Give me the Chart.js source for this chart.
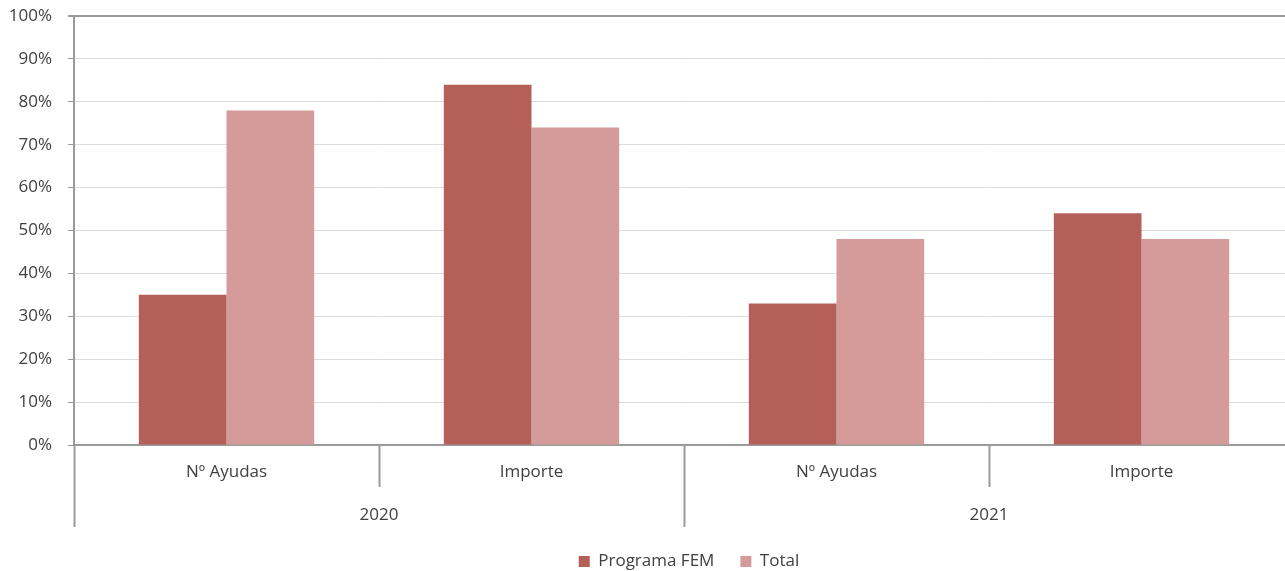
<!DOCTYPE html>
<html>
<head>
<meta charset="utf-8">
<script src="https://cdn.jsdelivr.net/npm/chart.js@4.4.1/dist/chart.umd.min.js"></script>
<style>
  html, body { margin: 0; padding: 0; background: #fff; overflow: hidden; }
  #wrap { width: 1285px; height: 571px; overflow: hidden; }
  canvas { display: block; }
</style>
</head>
<body>
<div id="wrap"><canvas id="chart" width="1378" height="580"></canvas></div>
<script>
  // data
  const categories = ["Nº Ayudas", "Importe", "Nº Ayudas", "Importe"];
  const years = ["2020", "2021"];
  const programaFEM = [35, 84, 33, 54];
  const total = [78, 74, 48, 48];

  const axisColor = "#9a9a9a";
  const gridColor = "#dcdcdc";
  const textColor = "#404040";
  const font = { family: "'Open Sans', sans-serif", size: 17 };

  new Chart(document.getElementById("chart").getContext("2d"), {
    type: "bar",
    data: {
      labels: categories,
      datasets: [
        {
          label: "Programa FEM",
          data: programaFEM,
          backgroundColor: "#b55f59",
          borderWidth: 0,
          categoryPercentage: 0.575,
          barPercentage: 1,
        },
        {
          label: "Total",
          data: total,
          backgroundColor: "#d49b9a",
          borderWidth: 0,
          categoryPercentage: 0.575,
          barPercentage: 1,
        },
      ],
    },
    options: {
      responsive: false,
      animation: false,
      layout: { padding: { top: 16, right: 0, left: 0, bottom: 0 } },
      plugins: {
        tooltip: { enabled: false },
        legend: {
          position: "bottom",
          labels: {
            boxWidth: 11,
            boxHeight: 11,
            padding: 26,
            color: textColor,
            font: font,
          },
        },
      },
      scales: {
        y: {
          min: 0,
          max: 100,
          ticks: {
            stepSize: 10,
            padding: 16,
            color: textColor,
            font: font,
            callback: (v) => v + "%",
          },
          grid: {
            color: (c) => (c.tick && c.tick.value === 100 ? axisColor : gridColor),
            lineWidth: (c) => (c.tick && c.tick.value === 100 ? 2 : 1),
            tickColor: axisColor,
            tickLength: 6,
          },
          border: { display: true, color: axisColor, width: 2 },
          afterFit: (s) => {
            s.width = 74;
            s.paddingTop = 0;
          },
        },
        // empty right-hand spacer, the plot runs past the picture edge
        yRight: {
          position: "right",
          grid: { display: false },
          ticks: { display: false },
          border: { display: false },
          afterFit: (s) => { s.width = 84; },
        },
        x: {
          type: "category",
          offset: true,
          grid: {
            offset: true,
            drawOnChartArea: false,
            tickLength: 42,
            tickColor: axisColor,
            tickWidth: 2,
          },
          border: { display: true, color: axisColor, width: 2 },
          ticks: { padding: -25, color: textColor, font: font, maxRotation: 0 },
          afterFit: (s) => { s.height = 42; },
        },
        x2: {
          type: "category",
          position: "bottom",
          labels: years,
          offset: true,
          grid: {
            offset: true,
            drawOnChartArea: false,
            tickLength: 40,
            tickColor: axisColor,
            tickWidth: 2,
          },
          border: { display: false },
          ticks: { padding: -22, color: textColor, font: font, maxRotation: 0 },
          afterFit: (s) => { s.height = 40; },
        },
      },
    },
  });
</script>
</body>
</html>
